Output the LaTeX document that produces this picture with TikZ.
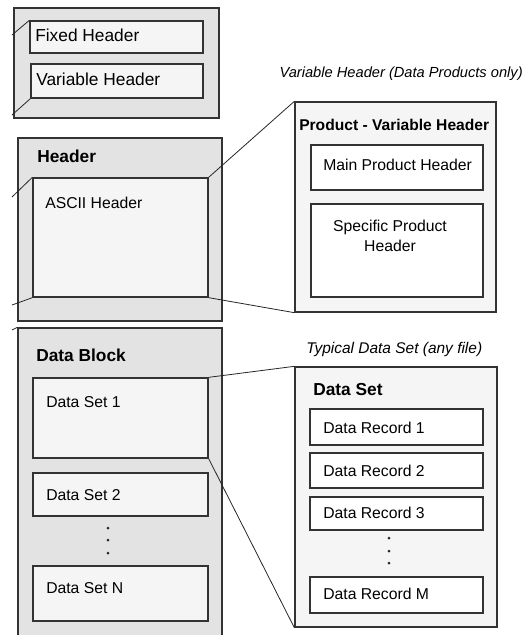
\documentclass[tikz,border=0pt]{standalone}
\usepackage{fontspec}
\setmainfont{Liberation Sans}
\usetikzlibrary{fit}
\newcommand\bigfont{\fontsize{13}{15}\selectfont}
\newcommand\bodyfont{\fontsize{11.8}{15}\selectfont}
\newcommand\notefont{\fontsize{11}{13}\selectfont\itshape}
\tikzset{
  outer/.style={draw=black!80,line width=1pt,fill=black!11,inner sep=0pt},
  inner/.style={draw=black!80,line width=1pt,fill=black!4,inner sep=0pt},
  panel/.style={draw=black!80,line width=1pt,fill=black!4,inner sep=0pt},
  slot/.style={draw=black!80,line width=1pt,fill=white,inner sep=0pt},
  txt/.style={anchor=base west,inner sep=0pt,font=\bodyfont},
  link/.style={draw=black!85,line width=0.6pt},
}
\begin{document}
\begin{tikzpicture}[x=0.75pt,y=-0.75pt]
\useasboundingbox (0,0) rectangle (524,635);
% file header (top left)
\node[outer,fit={(14,8) (219,118)}] (top) {};
\node[inner,fit={(30,21) (203,53)}] (fixed) {};
\node[inner,fit={(31,64) (203,98)}] (varhdr) {};
\node[txt,font=\bigfont] (fixedtxt) at (35,42) {Fixed Header};
\node[txt,font=\bigfont] (varhdrtxt) at (36,85) {Variable Header};
% header
\node[outer,fit={(18,138) (222,321)}] (header) {};
\node[txt,font=\bigfont\bfseries] (headertxt) at (37,162) {Header};
\node[inner,fit={(33,178) (208,297)}] (ascii) {};
\node[txt] (asciitxt) at (45,208) {ASCII Header};
% data block
\node[outer,fit={(18,328) (222,645)}] (datablock) {};
\node[txt,font=\bigfont\bfseries] (datablocktxt) at (36,361) {Data Block};
\node[inner,fit={(33,378) (208,458)}] (ds1) {};
\node[inner,fit={(33,473) (208,516)}] (ds2) {};
\node[inner,fit={(33,566) (208,621)}] (dsn) {};
\node[txt] (ds1txt) at (46,407) {Data Set 1};
\node[txt] (ds2txt) at (46,500) {Data Set 2};
\node[txt] (dsntxt) at (46,593) {Data Set N};
\foreach \y in {528,540,553} \fill[black!85] (108,\y) circle (1.5);
% product variable header (right)
\node[anchor=base east,inner sep=0pt,font=\notefont] (prodnote) at (523,78) {Variable Header (Data Products only)};
\node[panel,fit={(295,102) (496,312)}] (prodpanel) {};
\node[txt,font=\fontsize{11.7}{14}\selectfont\bfseries] (prodtxt) at (299,130) {Product - Variable Header};
\node[slot,fit={(311,145) (483,190)}] (mainph) {};
\node[slot,fit={(311,204) (483,297)}] (specph) {};
\node[txt] (mainphtxt) at (323,170) {Main Product Header};
\node[font=\bodyfont,align=center,inner sep=0pt] (specphtxt) at (390,236) {Specific Product\\Header};
% typical data set (right)
\node[txt,font=\fontsize{11.6}{13}\selectfont\itshape] (setnote) at (306,353) {Typical Data Set (any file)};
\node[panel,fit={(295,367) (497,627)}] (setpanel) {};
\node[txt,font=\bigfont\bfseries] (settxt) at (313,395) {Data Set};
\node[slot,fit={(310,409) (483,445)}] (rec1) {};
\node[slot,fit={(310,453) (483,488)}] (rec2) {};
\node[slot,fit={(310,497) (483,530)}] (rec3) {};
\node[slot,fit={(310,577) (483,613)}] (recm) {};
\node[txt] (rec1txt) at (323,433) {Data Record 1};
\node[txt] (rec2txt) at (323,476) {Data Record 2};
\node[txt] (rec3txt) at (323,518) {Data Record 3};
\node[txt] (recmtxt) at (323,599) {Data Record M};
\foreach \y in {538,551,563} \fill[black!85] (389,\y) circle (1.5);
% zoom lines
\draw[link] (ascii.north east) -- (prodpanel.north west);
\draw[link] (ascii.south east) -- (prodpanel.south west);
\draw[link] (ds1.north east) -- (setpanel.north west);
\draw[link] (ds1.south east) -- (setpanel.south west);
% cut ends from the left
\coordinate (cutA) at (12,35);
\coordinate (cutB) at (12,115);
\coordinate (cutC) at (12,197);
\coordinate (cutD) at (12,305);
\coordinate (cutE) at (12,330);
\draw[link] (cutA) -- (fixed.north west);
\draw[link] (cutB) -- (varhdr.south west);
\draw[link] (cutC) -- (ascii.north west);
\draw[link] (cutD) -- (ascii.south west);
\draw[link] (cutE) -- (datablock.north west);
\end{tikzpicture}
\end{document}
